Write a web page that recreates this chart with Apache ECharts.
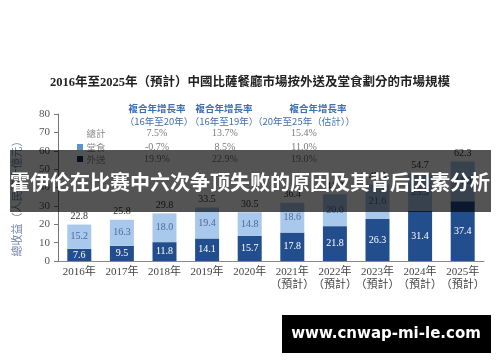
<!DOCTYPE html>
<html><head><meta charset="utf-8">
<script src="https://cdn.jsdelivr.net/npm/echarts@6/dist/echarts.min.js"></script>
<style>html,body{margin:0;padding:0;background:#fff}#c{width:500px;height:362px}</style>
</head><body><div id="c"></div>
<script>
const categories = ['2016年','2017年','2018年','2019年','2020年','2021年\n（預計）','2022年\n（預計）','2023年\n（預計）','2024年\n（預計）','2025年\n（預計）'];
const delivery = [7.6, 9.5, 11.8, 14.1, 15.7, 17.8, 21.8, 26.3, 31.4, 37.4];
const dineIn = [15.2, 16.3, 18.0, 19.4, 14.8, 18.6, 20.0, 21.6, 23.3, 24.9];
const totals = [22.8, 25.8, 29.8, 33.5, 30.5, 36.4, 41.8, 47.9, 54.7, 62.3];
const yMin = 0, yMax = 80, yInterval = 10;
const cagrHeaders = [['複合年增長率','（16年至20年）'],['複合年增長率','（16年至19年）'],['複合年增長率','（20年至25年（估計））']];
const cagrRows = ['總計','堂食','外送'];
const cagrValues = [['7.5%','-0.7%','19.9%'],['13.7%','8.5%','22.9%'],['15.4%','11.0%','19.0%']];
const titleText = '2016年至2025年（預計）中國比薩餐廳市場按外送及堂食劃分的市場規模';
const yName = '總收益（人民幣十億元）';
const bannerText = '霍伊伦在比赛中六次争顶失败的原因及其背后因素分析';
const watermark = 'www.cnwap-mi-le.com';

const SERIF = '"Liberation Serif","Noto Sans CJK TC",serif';
const CJK = '"Noto Sans CJK TC","Noto Sans CJK SC",sans-serif';
const DARK = '#234e8e', LIGHT = '#a8c8ec';
const fmt1 = p => Number(p.value).toFixed(1);

const colX = [157, 225, 304];
const headX = [157, 224, 318];
const head2X = [159, 224, 304];
const rowY = [133, 147, 159];
const g = [];
cagrHeaders.forEach((h, i) => {
  g.push({type:'text', x: headX[i], y: 108, style:{text:h[0], fill:'#3f6fb0', font:'bold 9.5px '+CJK, textAlign:'center', textVerticalAlign:'middle'}});
  g.push({type:'text', x: head2X[i], y: 121, style:{text:h[1], fill:'#3f6fb0', font:'9.5px '+CJK, textAlign:'center', textVerticalAlign:'middle'}});
  cagrValues[i].forEach((v, j) => {
    g.push({type:'text', x: colX[i], y: rowY[j], style:{text:v, fill:'#7a7a7a', font:'10px '+SERIF, textAlign:'center', textVerticalAlign:'middle'}});
  });
});
cagrRows.forEach((r, j) => {
  g.push({type:'text', x: 96, y: rowY[j], style:{text:r, fill:'#8a8a8a', font:'9.5px '+CJK, textAlign:'center', textVerticalAlign:'middle'}});
});
g.push({type:'rect', shape:{x:77, y:144, width:6, height:6}, style:{fill:'#5b92d0'}});
g.push({type:'rect', shape:{x:77, y:156, width:6, height:6}, style:{fill:'#17315e'}});
g.push({type:'text', x: 17, y: 196, rotation: Math.PI/2, style:{text:yName, fill:'#7286a8', font:'11px '+CJK, textAlign:'center', textVerticalAlign:'middle'}});
g.push({type:'rect', z:100, shape:{x:10, y:150, width:481, height:62}, style:{fill:'rgba(0,0,0,0.67)'}});
g.push({type:'text', z:101, x: 250, y: 182, style:{text:bannerText, fill:'#fff', font:'bold 20px "Noto Sans CJK SC",sans-serif', textAlign:'center', textVerticalAlign:'middle'}});
g.push({type:'rect', z:100, shape:{x:282, y:315, width:209, height:38}, style:{fill:'#000'}});
g.push({type:'text', z:101, x: 386, y: 334, style:{text:watermark, fill:'#fff', font:'bold 15px "DejaVu Sans",sans-serif', textAlign:'center', textVerticalAlign:'middle'}});

const chart = echarts.init(document.getElementById('c'), null, {renderer:'canvas'});
chart.setOption({
  animation:false,
  backgroundColor:'#fff',
  title:{text:titleText, left:'center', top:72, textStyle:{fontSize:12.5, fontWeight:'bold', color:'#222', fontFamily:SERIF}},
  grid:{left:58, right:16, top:114, bottom:101, containLabel:false},
  xAxis:{type:'category', data:categories,
    axisLine:{lineStyle:{color:'#888', width:1}}, axisTick:{show:false},
    axisLabel:{fontSize:11, color:'#444', fontFamily:SERIF, margin:5, lineHeight:13, interval:0}},
  yAxis:[
    {type:'value', min:yMin, max:yMax, interval:yInterval,
     axisLine:{show:true, lineStyle:{color:'#777'}}, axisTick:{show:true, length:4, lineStyle:{color:'#777'}},
     splitLine:{show:false}, axisLabel:{fontSize:11, color:'#555', fontFamily:SERIF, margin:8}},
    {type:'value', min:0, max:92, show:false, splitLine:{show:false}}
  ],
  graphic:g,
  series:[
    {name:'外送', type:'bar', stack:'s', yAxisIndex:1, data:delivery, barWidth:24, barGap:'-100%',
     itemStyle:{color:DARK},
     label:{show:true, position:'inside', color:'#fff', fontSize:10, fontFamily:SERIF, formatter:fmt1}},
    {name:'堂食', type:'bar', stack:'s', yAxisIndex:1, data:dineIn, barWidth:24, barGap:'-100%',
     itemStyle:{color:LIGHT},
     label:{show:true, position:'inside', color:'#4d6a96', fontSize:10, fontFamily:SERIF, formatter:fmt1}},
    {name:'總計', type:'bar', yAxisIndex:1, data:totals, barWidth:24, barGap:'-100%', z:1,
     itemStyle:{color:'rgba(0,0,0,0)'},
     label:{show:true, position:'top', distance:3, color:'#333', fontSize:10, fontFamily:SERIF, formatter:fmt1}}
  ]
});
</script></body></html>
